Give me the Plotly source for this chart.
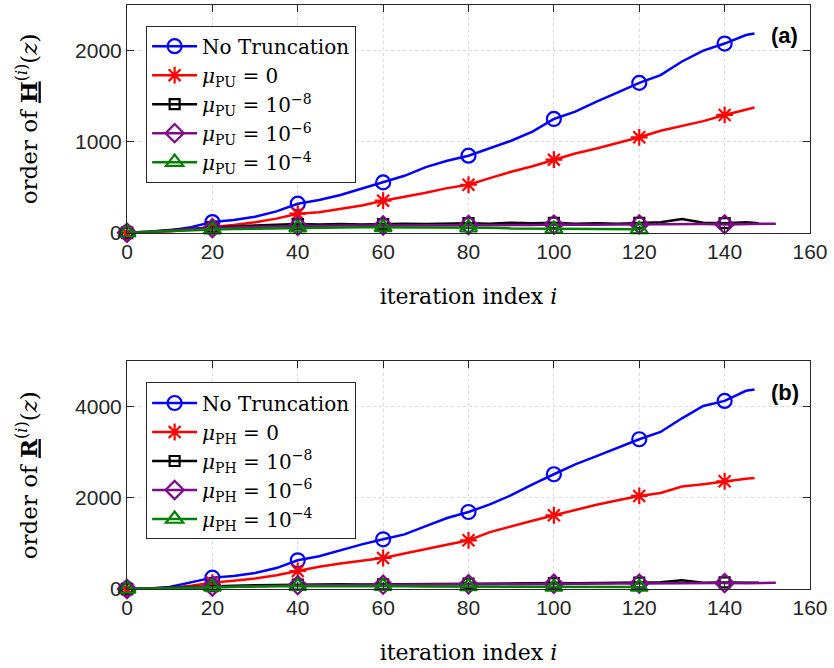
import plotly.graph_objects as go

# ---------------- panel (a): order of H^(i)(z) ----------------
it_a_notrunc = [0,5,10,15,20,25,30,35,40,45,50,55,60,65,70,75,80,85,90,95,100,105,110,115,120,125,130,135,140,145,147]
a_notrunc = [0,5,25,62,117,140,175,235,319,360,415,485,553,625,720,790,846,925,1010,1110,1249,1330,1440,1540,1645,1730,1880,2000,2077,2170,2187]

it_a_mu0 = [0,5,10,15,20,25,30,35,40,45,50,55,60,65,70,75,80,85,90,95,100,105,110,115,120,125,130,135,140,145,147]
a_mu0 = [0,3,15,35,62,85,115,155,209,225,260,300,352,395,440,490,527,600,670,730,802,870,925,985,1048,1120,1170,1225,1293,1345,1374]

it_a_mu8 = [0,5,10,15,20,25,30,35,40,45,50,55,60,65,70,75,80,85,90,95,100,105,110,115,120,125,130,135,140,145,148]
a_mu8 = [0,10,30,45,60,70,80,85,95,90,95,90,95,100,95,100,105,100,110,105,110,100,105,100,110,115,150,110,105,115,105]

it_a_mu6 = [0,5,10,15,20,25,30,35,40,45,50,55,60,65,70,75,80,85,90,95,100,105,110,115,120,125,130,135,140,145,150,152]
a_mu6 = [0,10,25,40,50,60,65,70,75,78,80,80,80,82,80,85,85,85,88,85,90,85,88,90,92,95,90,95,92,95,100,100]

it_a_mu4 = [0,5,10,15,20,25,30,35,40,45,50,55,60,65,70,75,80,85,90,95,100,105,110,115,120,121]
a_mu4 = [0,10,22,30,35,40,45,50,55,55,58,60,60,62,60,58,55,55,48,45,42,40,40,38,38,38]

# ---------------- panel (b): order of R^(i)(z) ----------------
it_b_notrunc = [0,5,10,15,20,25,30,35,40,45,50,55,60,65,70,75,80,85,90,95,100,105,110,115,120,125,130,135,140,145,147]
b_notrunc = [0,5,44,154,250,285,350,460,631,720,850,980,1092,1200,1380,1560,1692,1860,2060,2300,2521,2740,2920,3100,3290,3450,3750,4020,4132,4355,4382]

it_b_mu0 = [0,5,10,15,20,25,30,35,40,45,50,55,60,65,70,75,80,85,90,95,100,105,110,115,120,125,130,135,140,145,147]
b_mu0 = [0,5,20,70,140,180,230,300,396,490,560,620,681,780,880,980,1070,1250,1380,1500,1620,1740,1850,1950,2044,2110,2250,2300,2367,2420,2440]

it_b_mu8 = [0,5,10,15,20,25,30,35,40,45,50,55,60,65,70,75,80,85,90,95,100,105,110,115,120,125,130,135,140,145,148]
b_mu8 = [0,15,40,55,60,70,80,90,97,100,105,100,105,110,105,115,119,115,120,125,130,125,130,135,140,150,190,140,145,150,140]

it_b_mu6 = [0,5,10,15,20,25,30,35,40,45,50,55,60,65,70,75,80,85,90,95,100,105,110,115,120,125,130,135,140,145,150,152]
b_mu6 = [0,10,30,45,55,65,75,80,85,90,90,95,95,100,100,100,105,105,110,110,115,115,115,120,120,125,125,125,130,125,135,135]

it_b_mu4 = [0,5,10,15,20,25,30,35,40,45,50,55,60,65,70,75,80,85,90,95,100,105,110,115,120,121]
b_mu4 = [0,10,25,35,45,50,55,58,60,60,62,60,60,58,55,55,55,52,50,48,45,45,45,45,45,45]

names_a = ["No Truncation", "<i>μ</i><sub>PU</sub> = 0", "<i>μ</i><sub>PU</sub> = 10<sup>−8</sup>",
           "<i>μ</i><sub>PU</sub> = 10<sup>−6</sup>", "<i>μ</i><sub>PU</sub> = 10<sup>−4</sup>"]
names_b = ["No Truncation", "<i>μ</i><sub>PH</sub> = 0", "<i>μ</i><sub>PH</sub> = 10<sup>−8</sup>",
           "<i>μ</i><sub>PH</sub> = 10<sup>−6</sup>", "<i>μ</i><sub>PH</sub> = 10<sup>−4</sup>"]

x_ticks = [0, 20, 40, 60, 80, 100, 120, 140, 160]
y_ticks_a = [0, 1000, 2000]
y_ticks_b = [0, 2000, 4000]

colors = ["#0000ff", "#ff0000", "#000000", "#7e0a8a", "#008000"]
symbols = ["circle-open", "asterisk-open", "square-open", "diamond-open", "triangle-up-open"]
msizes = [14, 14, 10, 14, 15]

fig = go.Figure()

def add_series(x, y, color, symbol, msize, name, xa, ya, legend):
    fig.add_trace(go.Scatter(x=x, y=y, mode="lines", line=dict(color=color, width=2.5),
                             showlegend=False, xaxis=xa, yaxis=ya, hoverinfo="skip"))
    mx = [xi for xi in x if xi % 20 == 0]
    my = [yi for xi, yi in zip(x, y) if xi % 20 == 0]
    fig.add_trace(go.Scatter(x=mx, y=my, mode="markers", cliponaxis=False,
                             marker=dict(symbol=symbol, size=msize, color=color,
                                         line=dict(color=color, width=2.2)),
                             showlegend=False, xaxis=xa, yaxis=ya))
    fig.add_trace(go.Scatter(x=[None], y=[None], mode="lines+markers", name=name,
                             line=dict(color=color, width=2.5),
                             marker=dict(symbol=symbol, size=msize, color=color,
                                         line=dict(color=color, width=2.2)),
                             xaxis=xa, yaxis=ya, legend=legend))

series_a = [(it_a_notrunc, a_notrunc), (it_a_mu0, a_mu0), (it_a_mu8, a_mu8), (it_a_mu6, a_mu6), (it_a_mu4, a_mu4)]
series_b = [(it_b_notrunc, b_notrunc), (it_b_mu0, b_mu0), (it_b_mu8, b_mu8), (it_b_mu6, b_mu6), (it_b_mu4, b_mu4)]

for k, (x, y) in enumerate(series_a):
    add_series(x, y, colors[k], symbols[k], msizes[k], names_a[k], "x", "y", "legend")
for k, (x, y) in enumerate(series_b):
    add_series(x, y, colors[k], symbols[k], msizes[k], names_b[k], "x2", "y2", "legend2")

serif = "DejaVu Serif, Liberation Serif, serif"
axis_col = "#262626"
tick_font = dict(family="Liberation Sans, Arial, sans-serif", size=21, color=axis_col)
xtitle_font = dict(family=serif, size=22, color="#000000")
ytitle_font = dict(family=serif, size=23, color="#000000")
common_x = dict(range=[0, 160], tickvals=x_ticks, showline=True, linecolor=axis_col, linewidth=1,
                mirror="ticks", ticks="inside", ticklen=7, tickcolor=axis_col, tickfont=tick_font,
                showgrid=True, gridcolor="#dcdcdc", griddash="dot", gridwidth=1, zeroline=False)
common_y = dict(showline=True, linecolor=axis_col, linewidth=1, mirror="ticks", ticks="inside",
                ticklen=7, tickcolor=axis_col, tickfont=tick_font, showgrid=True,
                gridcolor="#dcdcdc", griddash="dot", gridwidth=1, zeroline=False)

legend_common = dict(xanchor="left", yanchor="top", bgcolor="white", bordercolor="#262626",
                     borderwidth=1, font=dict(family=serif, size=20, color="black"),
                     itemwidth=45, tracegroupgap=0)

fig.update_layout(
    width=834, height=668,
    margin=dict(l=127, r=24, t=5, b=79),
    plot_bgcolor="white", paper_bgcolor="white",
    xaxis=dict(domain=[0, 1], anchor="y", **common_x,
               title=dict(text="iteration index <i>i</i>", font=xtitle_font, standoff=26)),
    yaxis=dict(domain=[0.610, 1.0], anchor="x", range=[0, 2500], tickvals=y_ticks_a, **common_y,
               title=dict(text="order of <u><b>H</b></u><sup>(<i>i</i>)</sup>(<i>z</i>)", font=ytitle_font, standoff=31)),
    xaxis2=dict(domain=[0, 1], anchor="y2", **common_x,
                title=dict(text="iteration index <i>i</i>", font=xtitle_font, standoff=26)),
    yaxis2=dict(domain=[0, 0.3897], anchor="x2", range=[0, 5000], tickvals=y_ticks_b, **common_y,
                title=dict(text="order of <u><b>R</b></u><sup>(<i>i</i>)</sup>(<i>z</i>)", font=ytitle_font, standoff=31)),
    legend=dict(x=0.028, y=0.9646, **legend_common),
    legend2=dict(x=0.028, y=0.3536, **legend_common),
    annotations=[
        dict(text="<b>(a)</b>", x=0.963, y=0.947, xref="paper", yref="paper", showarrow=False,
             xanchor="center", yanchor="middle",
             font=dict(family="Liberation Sans, Arial, sans-serif", size=22, color="black")),
        dict(text="<b>(b)</b>", x=0.963, y=0.337, xref="paper", yref="paper", showarrow=False,
             xanchor="center", yanchor="middle",
             font=dict(family="Liberation Sans, Arial, sans-serif", size=22, color="black")),
    ],
)

fig.write_html("out.html")
